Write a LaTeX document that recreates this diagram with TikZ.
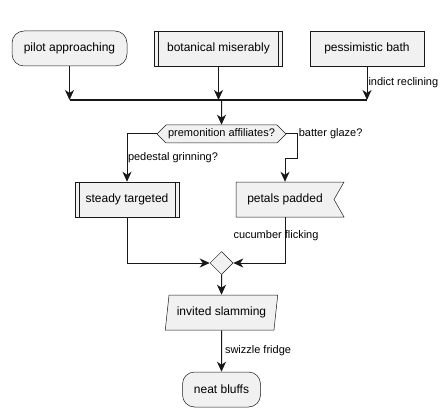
\documentclass[tikz,border=0pt]{standalone}
\usepackage{fontspec}
\setmainfont{Liberation Sans}
\usetikzlibrary{arrows.meta,positioning,calc,shapes.geometric,shapes.symbols}
\definecolor{boxfill}{HTML}{F1F1F1}
\definecolor{boxline}{HTML}{181818}

\begin{document}
\begin{tikzpicture}[x=1pt, y=1pt, node distance=27pt,
    font=\fontsize{12}{14}\selectfont,
    box/.style={draw=boxline, fill=boxfill, line width=0.5pt, minimum height=35pt, inner sep=0pt},
    act/.style={box, rounded corners=12pt},
    sub/.style={box, path picture={
        \draw[boxline, line width=0.5pt]
          ([xshift=4pt]path picture bounding box.north west) -- ([xshift=4pt]path picture bounding box.south west)
          ([xshift=-4pt]path picture bounding box.north east) -- ([xshift=-4pt]path picture bounding box.south east);}},
    choice/.style={box, signal, signal to=west and east, signal pointer angle=90,
        minimum height=18pt, font=\fontsize{11}{13}\selectfont},
    flow/.style={-{Stealth[length=10pt, width=9pt, inset=3pt]}, line width=1pt, draw=boxline},
    lbl/.style={font=\fontsize{11}{13}\selectfont, inner sep=1pt}]
    \useasboundingbox (0,0) rectangle (447,-417);
    \node[act, minimum width=115pt] (pilot) at (69.5,-48.5) {pilot approaching};
    \node[sub, minimum width=128pt, right=of pilot] (botanical) {botanical miserably};
    \node[box, minimum width=114pt, right=of botanical] (pess) {pessimistic bath};
    \coordinate (bar) at (221.5,-100);
    \node[choice, minimum width=129pt] (premon) at (221.5,-134) {premonition affiliates?};
    \node[sub, minimum width=104pt] (steady) at (127,-199.5) {steady targeted};
    \coordinate (pp) at (285,-199.5);
    \draw[box] ($(pp)+(-49,17.5)$) -- ++(108,0) -- ++(-10,-17.5) -- ++(10,-17.5) -- ++(-108,0) -- cycle;
    \node[minimum width=98pt, minimum height=35pt, inner sep=0pt] (petals) at (pp) {petals padded};
    \node[box, diamond, minimum width=23pt, minimum height=23pt] (merge) at (221.5,-263) {};
    \node[box, trapezium, trapezium left angle=74, trapezium right angle=106, trapezium stretches=true,
        minimum width=113pt] (invited) at (221.5,-312.5) {invited slamming};
    \node[act, minimum width=78pt] (bluffs) at (221.5,-389.5) {neat bluffs};
    % join bar
    \draw[flow] (pilot) -- (pilot |- bar);
    \draw[flow] (botanical) -- (botanical |- bar);
    \draw[flow] (pess) -- node[lbl, right] {indict reclining} (pess |- bar);
    \draw[line width=2pt, boxline] (pilot |- bar) -- (pess |- bar);
    \draw[flow] (bar) -- (premon);
    % branches
    \draw[flow] (premon.west) -| node[lbl, pos=0.75, right, inner sep=0.5pt] {pedestal grinning?} (steady);
    \draw[flow] (premon.east) -| node[lbl, pos=0.5, right] {batter glaze?} ++(11,-24) -| (petals);
    \draw[flow] (steady) |- (merge);
    \draw[flow] (petals) |- node[lbl, pos=0.2, anchor=west, xshift=-53pt] {cucumber flicking} (merge);
    \draw[flow] (merge) -- (invited);
    \draw[flow] (invited) -- node[lbl, right, xshift=2pt] {swizzle fridge} (bluffs);
\end{tikzpicture}
\end{document}
